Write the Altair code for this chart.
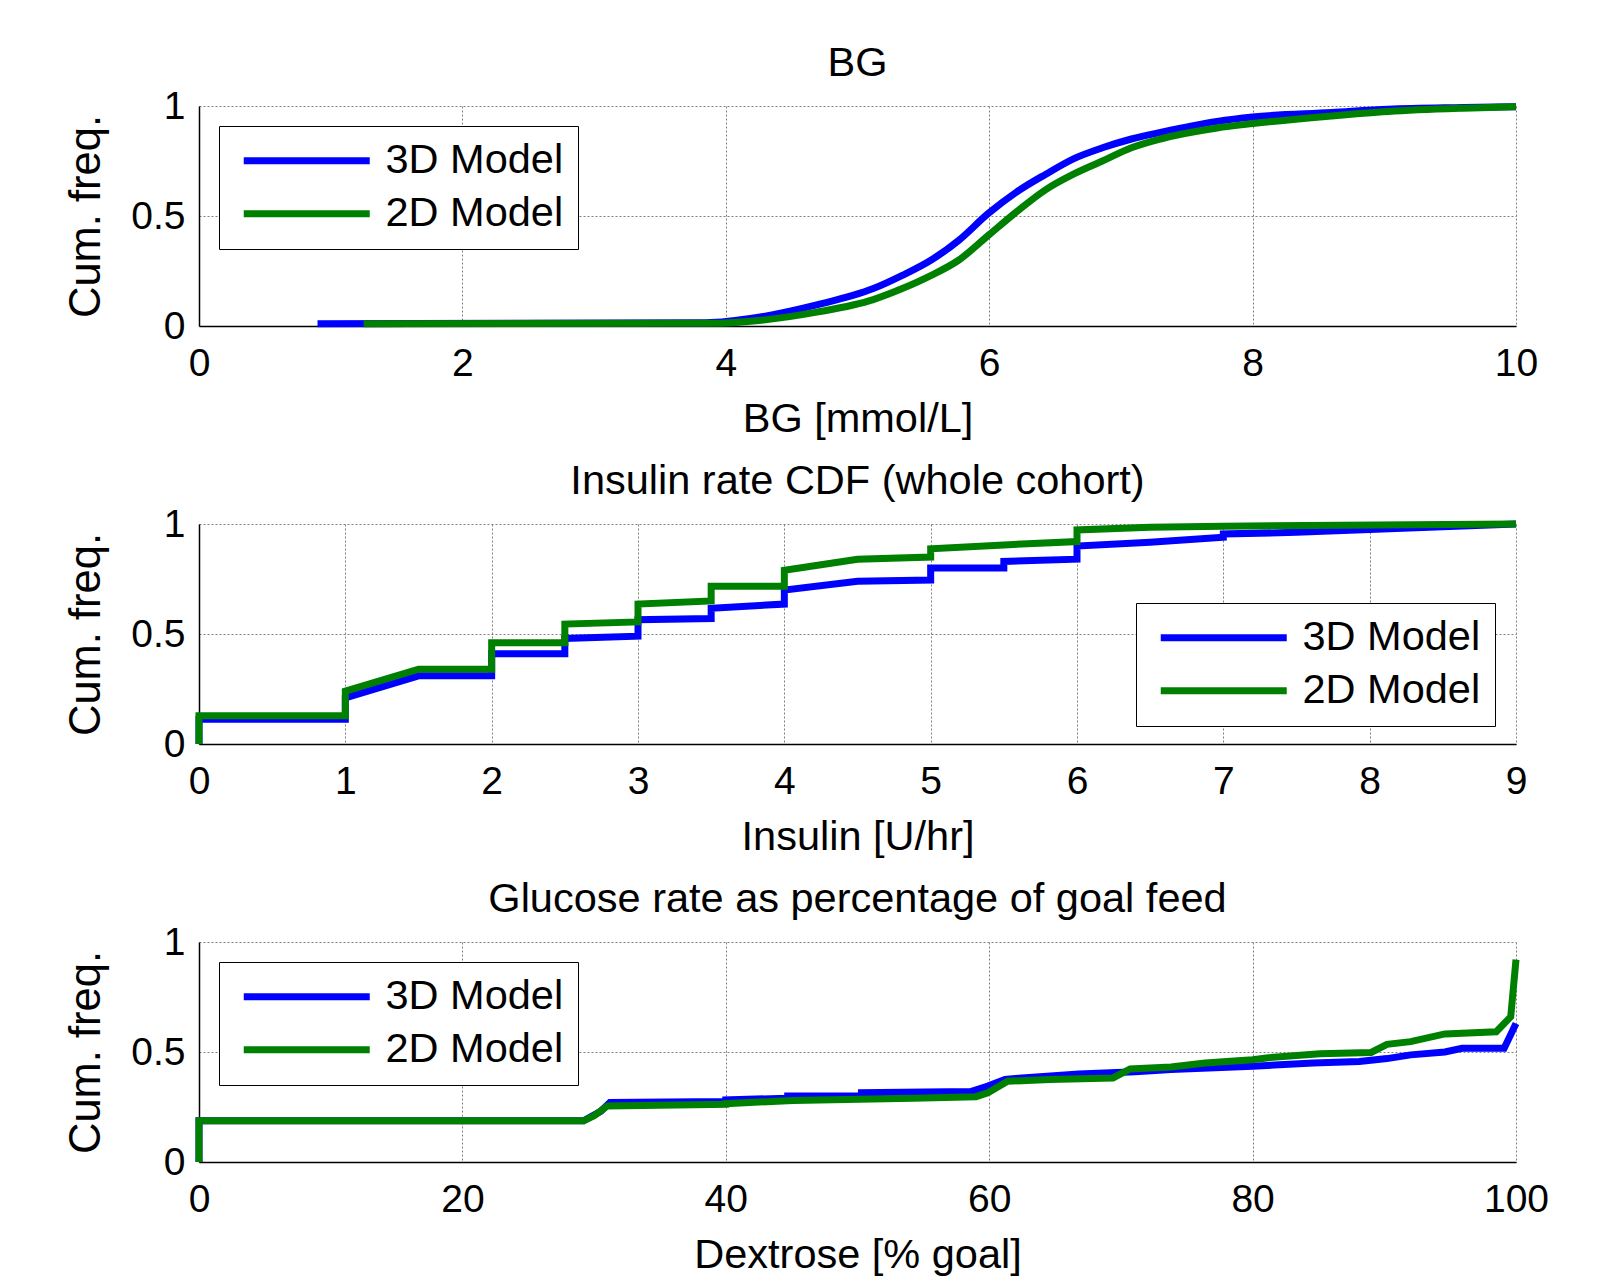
import altair as alt
import pandas as pd

FONT = "Liberation Sans"
series_names = ["3D Model", "2D Model"]
series_colors = ["#0000FF", "#008000"]

# ---- BG panel (cumulative frequency vs BG) ----
bg_x_3d = [0.9, 3.85, 4.25, 4.69, 5.12, 5.34, 5.56, 5.77, 5.99, 6.21, 6.43, 6.64, 6.86, 7.08, 7.30, 7.73, 8.0, 8.6, 9.03, 9.6, 10.0]
bg_y_3d = [0.01, 0.015, 0.04, 0.096, 0.17, 0.23, 0.30, 0.39, 0.51, 0.61, 0.69, 0.76, 0.81, 0.85, 0.88, 0.93, 0.95, 0.97, 0.985, 0.993, 0.997]
bg_x_2d = [1.25, 3.9, 4.25, 4.69, 5.12, 5.34, 5.56, 5.77, 5.99, 6.21, 6.43, 6.64, 6.86, 7.08, 7.30, 7.73, 8.0, 8.6, 9.03, 9.6, 10.0]
bg_y_2d = [0.01, 0.012, 0.025, 0.063, 0.12, 0.17, 0.23, 0.30, 0.41, 0.52, 0.62, 0.69, 0.75, 0.81, 0.85, 0.90, 0.92, 0.955, 0.975, 0.99, 0.997]
bg_ticks = [0, 2, 4, 6, 8, 10]

# ---- Insulin panel ----
ins_x_3d = [0, 0, 1, 1, 1.5, 2, 2, 2.5, 2.5, 3, 3, 3.5, 3.5, 4, 4, 4.5, 5, 5, 5.5, 5.5, 6, 6, 6.5, 7, 7, 7.5, 9]
ins_y_3d = [0, 0.113, 0.113, 0.21, 0.31, 0.31, 0.41, 0.41, 0.48, 0.49, 0.565, 0.57, 0.617, 0.636, 0.70, 0.74, 0.745, 0.80, 0.80, 0.83, 0.84, 0.90, 0.917, 0.94, 0.955, 0.962, 1.0]
ins_x_2d = [0, 0, 1, 1, 1.5, 2, 2, 2.5, 2.5, 3, 3, 3.5, 3.5, 4, 4, 4.5, 5, 5, 5.5, 6, 6, 6.5, 7, 9]
ins_y_2d = [0, 0.128, 0.128, 0.24, 0.34, 0.34, 0.46, 0.46, 0.545, 0.555, 0.636, 0.65, 0.717, 0.717, 0.79, 0.84, 0.85, 0.887, 0.905, 0.92, 0.973, 0.985, 0.99, 1.0]
ins_ticks = [0, 1, 2, 3, 4, 5, 6, 7, 8, 9]

# ---- Dextrose panel ----
dx_x_3d = [0, 0, 29.2, 30.5, 31.2, 40, 40, 44.7, 44.7, 50.3, 50.3, 58.6, 59.9, 61.2, 62.5, 66.8, 71.1, 73.8, 80, 84.6, 88.1, 90.2, 92.0, 94.6, 95.9, 99.1, 99.4, 100]
dx_y_3d = [0, 0.187, 0.187, 0.23, 0.27, 0.275, 0.282, 0.29, 0.30, 0.30, 0.315, 0.32, 0.345, 0.375, 0.382, 0.40, 0.41, 0.42, 0.435, 0.45, 0.457, 0.47, 0.487, 0.50, 0.517, 0.517, 0.555, 0.63]
dx_x_2d = [0, 0, 29.2, 30.0, 31.0, 40, 40, 45.1, 54.2, 59.0, 59.9, 61.4, 64.6, 69.4, 70.7, 73.8, 76.4, 80, 81.2, 85.1, 89, 90.2, 92, 94.6, 98.5, 99.6, 100]
dx_y_2d = [0, 0.187, 0.187, 0.21, 0.255, 0.262, 0.265, 0.28, 0.29, 0.297, 0.315, 0.367, 0.375, 0.382, 0.423, 0.432, 0.45, 0.465, 0.474, 0.492, 0.498, 0.535, 0.547, 0.582, 0.592, 0.66, 0.92]
dx_ticks = [0, 20, 40, 60, 80, 100]

y_ticks = [0, 0.5, 1]

PW, PH = 1317, 220
LW = 7


def make_df(xs, ys, name):
    return pd.DataFrame({"x": xs, "y": ys, "series": name, "idx": list(range(len(xs)))})


def panel(title, x_title, x_ticks, xs3, ys3, xs2, ys2, lx, ly, interp):
    color = alt.Color(
        "series:N",
        scale=alt.Scale(domain=series_names, range=series_colors),
        legend=alt.Legend(
            title=None, orient="none", legendX=lx, legendY=ly,
            symbolType="M-6,0H6", symbolSize=441, symbolStrokeWidth=LW,
            labelFont=FONT, labelFontSize=41.5, labelColor="black", labelLimit=400,
            rowPadding=10, padding=14, symbolOffset=53, labelOffset=58,
            strokeColor="black", fillColor="white",
        ),
    )
    x = alt.X("x:Q", scale=alt.Scale(domain=[x_ticks[0], x_ticks[-1]], nice=False, zero=False),
              axis=alt.Axis(values=x_ticks, title=x_title, labelExpr="'' + datum.value"))
    y = alt.Y("y:Q", scale=alt.Scale(domain=[0, 1], nice=False),
              axis=alt.Axis(values=y_ticks, title="Cum. freq.", labelExpr="'' + datum.value"))
    l3 = alt.Chart(make_df(xs3, ys3, series_names[0])).mark_line(
        strokeWidth=LW, interpolate=interp).encode(x=x, y=y, color=color, order="idx:Q")
    l2 = alt.Chart(make_df(xs2, ys2, series_names[1])).mark_line(
        strokeWidth=LW, interpolate=interp).encode(x=x, y=y, color=color, order="idx:Q")
    return alt.layer(l3, l2).properties(
        width=PW, height=PH,
        title=alt.TitleParams(text=title, font=FONT, fontSize=41.5, fontWeight="normal",
                              color="black", anchor="middle", frame="group", offset=3),
    )


p1 = panel("BG", "BG [mmol/L]", bg_ticks, bg_x_3d, bg_y_3d, bg_x_2d, bg_y_2d, 20, 20, "monotone")
p2 = panel("Insulin rate CDF (whole cohort)", "Insulin [U/hr]", ins_ticks,
           ins_x_3d, ins_y_3d, ins_x_2d, ins_y_2d, 937, 79, "linear")
p3 = panel("Glucose rate as percentage of goal feed", "Dextrose [% goal]", dx_ticks,
           dx_x_3d, dx_y_3d, dx_x_2d, dx_y_2d, 20, 20, "linear")

chart = alt.vconcat(p1, p2, p3, spacing=20).resolve_scale(color="independent").properties(
    padding={"left": 56, "top": 34, "right": 10, "bottom": 0},
    background="white",
).configure_axis(
    labelFont=FONT, labelFontSize=39, labelColor="black",
    titleFont=FONT, titleFontSize=41.5, titleFontWeight="normal", titleColor="black",
    domainColor="black", domainWidth=1.5, ticks=False,
    gridColor="#808080", gridDash=[2, 2], gridWidth=1,
    labelFlush=False, labelOverlap=False,
).configure_axisX(labelPadding=18, titlePadding=15).configure_axisY(
    labelPadding=14, titlePadding=22, titleFontSize=43.5
).configure_view(stroke=None)

chart.save("out.html", embed_options={"renderer": "svg", "actions": False})
